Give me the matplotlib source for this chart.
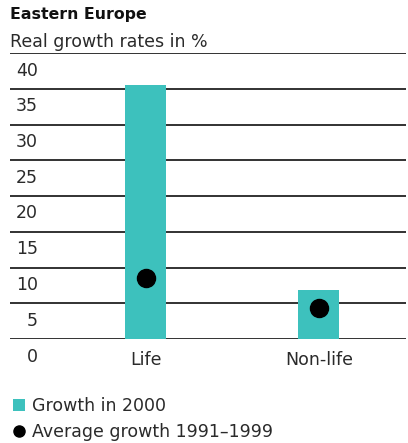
import matplotlib.pyplot as plt
import matplotlib.transforms as mtransforms
from matplotlib.patches import Patch
from matplotlib.lines import Line2D

plt.rcParams['font.family'] = ['DejaVu Sans']

categories = ['Life', 'Non-life']
growth_2000 = [35.5, 6.9]
avg_1991_1999 = [8.5, 4.3]
yticks = [0, 5, 10, 15, 20, 25, 30, 35, 40]

teal = '#3dc1bd'
txt = '#2a2a2a'
fs = 12.5
W, H = 408, 443
fig = plt.figure(figsize=(W / 100, H / 100), dpi=100)
ax = fig.add_axes([10 / W, 104 / H, 396 / W, 286 / H])

x = list(range(len(categories)))
ax.bar(x, growth_2000, width=0.237, color=teal, zorder=3)
ax.plot(x, avg_1991_1999, 'o', color='black', markersize=13, zorder=4)

ax.set_xlim(-0.786, 1.503)
ax.set_ylim(0, 40)
ax.set_yticks(yticks)
ax.set_xticks([])
ax.tick_params(left=False, labelleft=False)
ax.grid(axis='y', color='#222222', linewidth=1.3, zorder=1)
for s in ax.spines.values():
    s.set_visible(False)

# tick labels sit just below each gridline
off = mtransforms.offset_copy(ax.transData, fig=fig, x=0, y=-17.5 / 100 * 72, units='points')
blend = mtransforms.blended_transform_factory(ax.transAxes, off)
for v in yticks:
    ax.text(28 / 396, v, str(v), transform=blend, ha='right', va='center',
            fontsize=fs, color=txt)

offx = mtransforms.offset_copy(ax.transData, fig=fig, x=0, y=-21 / 100 * 72, units='points')
for xi, c in zip(x, categories):
    ax.text(xi, 0, c, transform=offx, ha='center', va='center', fontsize=fs, color=txt)

fig.text(10 / W, 1 - 15 / H, 'Eastern Europe', fontsize=11.3, fontweight='bold',
         va='center', ha='left', color='#111111')
fig.text(10 / W, 1 - 42 / H, 'Real growth rates in %', fontsize=fs,
         va='center', ha='left', color=txt)

handles = [Patch(facecolor=teal, edgecolor='none'),
           Line2D([], [], marker='o', linestyle='none', color='black', markersize=8)]
fig.legend(handles, ['Growth in 2000', 'Average growth 1991\u20131999'],
           loc='upper left', bbox_to_anchor=(4 / W, 1 - 388 / H), frameon=False,
           fontsize=fs, handlelength=0.7, handleheight=0.7, handletextpad=0.4,
           labelspacing=0.5, borderpad=0, labelcolor=txt)

fig.savefig('out.png', dpi=100)
